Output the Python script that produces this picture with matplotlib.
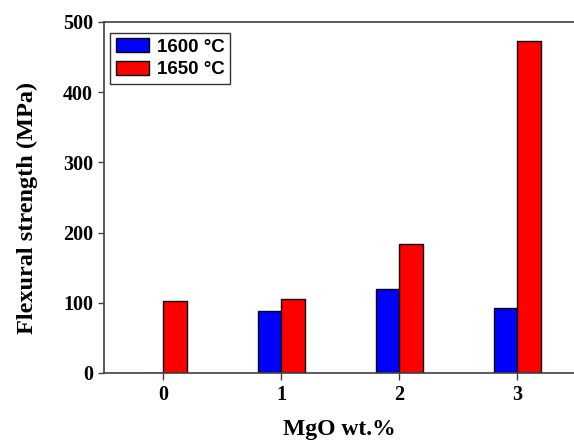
import numpy as np
import matplotlib
matplotlib.use("Agg")
import matplotlib.pyplot as plt

mgo = [0, 1, 2, 3]
s1600 = [0, 89, 120, 92]
s1650 = [103, 106, 184, 473]
labels = ["1600 °C", "1650 °C"]

serif = ["Liberation Serif", "DejaVu Serif"]

fig = plt.figure(figsize=(5.74, 4.41), dpi=100)
ax = fig.add_axes([104/574, (441-373)/441, (574-104)/574, (373-22)/441])

x = np.array(mgo)
w = 0.2
ax.bar(x, s1600, width=-w, align="edge", color="#0000ff", edgecolor="black",
       linewidth=1, label=labels[0])
ax.bar(x, s1650, width=w, align="edge", color="#ff0000", edgecolor="black",
       linewidth=1, label=labels[1])

ax.set_xlim(-0.5, 3.48)
ax.set_ylim(0, 500)
ax.set_xticks(mgo)
ax.set_yticks(range(0, 501, 100))
ax.spines["right"].set_visible(False)
for s in ["left", "bottom", "top"]:
    ax.spines[s].set_color("#404040")
    ax.spines[s].set_linewidth(1.2)

ax.tick_params(axis="y", direction="out", length=4, width=1, pad=4, color="#404040")
ax.tick_params(axis="x", direction="out", length=5, width=1, pad=4, color="#404040")
for lab in ax.get_xticklabels() + ax.get_yticklabels():
    lab.set_fontfamily(serif)
    lab.set_fontweight("bold")
    lab.set_fontsize(14.5)

ax.set_xlabel("MgO wt.%", fontfamily=serif, fontweight="bold", fontsize=17, labelpad=10)
ax.set_ylabel("Flexural strength (MPa)", fontfamily=serif, fontweight="bold",
              fontsize=17.5, labelpad=18)
ax.yaxis.label.set_y(0.47)

leg = ax.legend(loc="upper left", bbox_to_anchor=(0.013, 0.97), frameon=True,
                fancybox=False, edgecolor="black", handlelength=1.8, handleheight=0.8,
                handletextpad=0.4, borderpad=0.3, labelspacing=0.25, borderaxespad=0,
                prop={"family": "Liberation Sans", "weight": "bold", "size": 13.5})
leg.get_frame().set_linewidth(1)

fig.savefig("out.png", dpi=100)
